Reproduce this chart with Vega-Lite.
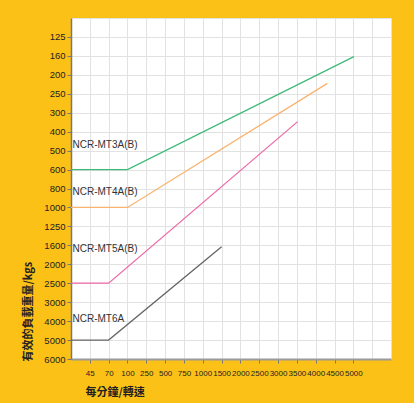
{
  "$schema": "https://vega.github.io/schema/vega-lite/v6.json",
  "autosize": {"type": "none"},
  "width": 320,
  "height": 341,
  "padding": {"left": 71, "top": 18, "right": 23, "bottom": 44},
  "background": "#fcc117",
  "config": {
    "view": {"fill": "white", "stroke": "#c8c8c8", "strokeWidth": 1},
    "font": "Liberation Sans",
    "axis": {"labelFont": "Liberation Sans", "titleFont": "Noto Sans CJK TC"}
  },
  "datasets": {
    "lines": [
      {"series": "MT3A", "x": 0, "y": 8},
      {"series": "MT3A", "x": 3, "y": 8},
      {"series": "MT3A", "x": 15.03, "y": 2.04},
      {"series": "MT4A", "x": 0, "y": 10},
      {"series": "MT4A", "x": 3, "y": 10},
      {"series": "MT4A", "x": 13.62, "y": 3.45},
      {"series": "MT5A", "x": 0, "y": 14},
      {"series": "MT5A", "x": 2, "y": 14},
      {"series": "MT5A", "x": 12.04, "y": 5.47},
      {"series": "MT6A", "x": 0, "y": 17},
      {"series": "MT6A", "x": 2, "y": 17},
      {"series": "MT6A", "x": 8, "y": 12.07}
    ],
    "labels": [
      {"label": "NCR-MT3A(B)", "x": 0.08, "y": 6.71},
      {"label": "NCR-MT4A(B)", "x": 0.08, "y": 9.17},
      {"label": "NCR-MT5A(B)", "x": 0.08, "y": 12.21},
      {"label": "NCR-MT6A", "x": 0.08, "y": 15.89}
    ]
  },
  "encoding": {
    "x": {
      "field": "x", "type": "quantitative",
      "scale": {"domain": [0, 17], "nice": false, "zero": false},
      "axis": {
        "values": [0,1,2,3,4,5,6,7,8,9,10,11,12,13,14,15,16,17],
        "labelExpr": "['','45','70','100','250','500','750','1000','1500','2000','2500','3000','3500','4000','4500','5000','',''][datum.value]",
        "labelFontSize": 8,
        "labelColor": "#222",
        "labelPadding": 6,
        "labelFlush": false,
        "labelOverlap": false,
        "tickSize": 4,
        "tickColor": {"condition": {"test": "datum.value < 1 || datum.value > 15", "value": "transparent"}, "value": "#777"},
        "domainColor": "#9a9a9a",
        "domainWidth": 2,
        "gridColor": "#e2e2e2",
        "title": "每分鐘/轉速",
        "titleFontSize": 11,
        "titleFontWeight": "bold",
        "titleColor": "#222",
        "titleAnchor": "start",
        "titleAlign": "left",
        "titleX": 14,
        "titleY": 33,
        "titleBaseline": "middle"
      }
    },
    "y": {
      "field": "y", "type": "quantitative",
      "scale": {"domain": [0, 18], "nice": false, "zero": false, "reverse": true},
      "axis": {
        "values": [0,1,2,3,4,5,6,7,8,9,10,11,12,13,14,15,16,17,18],
        "labelExpr": "['','125','160','200','250','300','400','500','600','800','1000','1250','1600','2000','2500','3000','4000','5000','6000'][datum.value]",
        "labelFontSize": 9.5,
        "labelColor": "#222",
        "labelPadding": 2,
        "labelFlush": false,
        "labelOverlap": false,
        "tickSize": 4,
        "tickColor": {"condition": {"test": "datum.value < 1", "value": "transparent"}, "value": "#777"},
        "domainColor": "#777",
        "domainWidth": 1.5,
        "gridColor": "#e2e2e2",
        "title": "有效的負載重量/kgs",
        "titleFontSize": 11,
        "titleFontWeight": "bold",
        "titleColor": "#222",
        "titleAngle": -90,
        "titleAlign": "left",
        "titleBaseline": "middle",
        "titleX": -43,
        "titleY": 343
      }
    }
  },
  "layer": [
    {
      "data": {"name": "lines"},
      "mark": {"type": "line", "strokeWidth": 1.3},
      "encoding": {
        "color": {
          "field": "series", "type": "nominal",
          "scale": {"domain": ["MT3A", "MT4A", "MT5A", "MT6A"], "range": ["#3dba78", "#f9b36e", "#ee6aa7", "#666666"]},
          "legend": null
        }
      }
    },
    {
      "data": {"name": "labels"},
      "mark": {"type": "text", "align": "left", "baseline": "middle", "fontSize": 10, "color": "#333", "font": "Liberation Sans"},
      "encoding": {
        "text": {"field": "label"}
      }
    }
  ]
}
